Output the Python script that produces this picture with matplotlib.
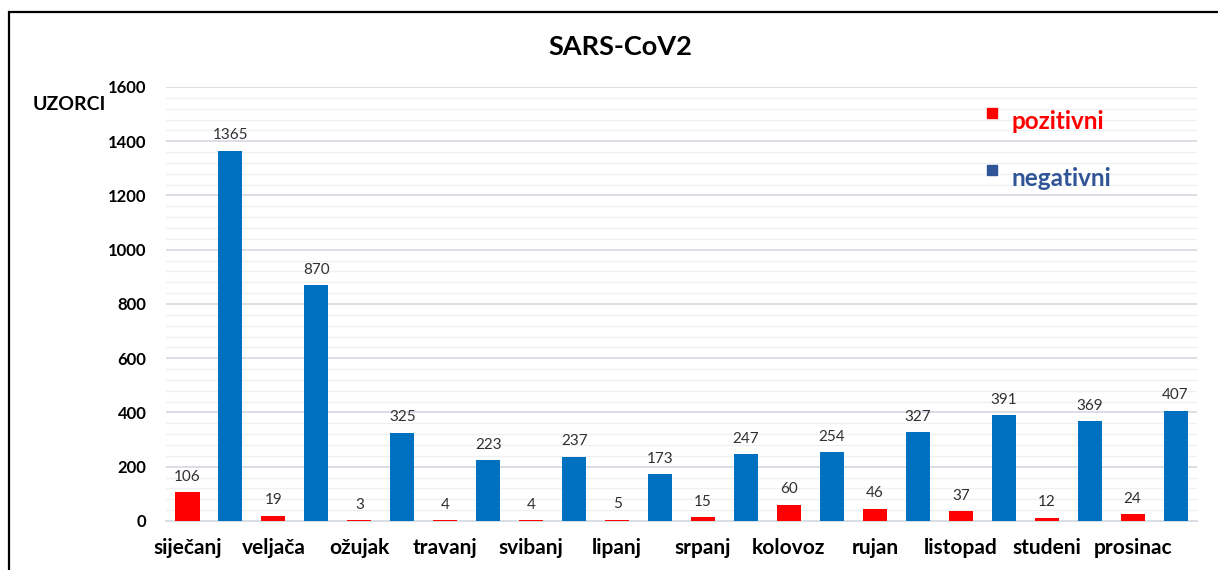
import numpy as np
import matplotlib
matplotlib.use('Agg')
import matplotlib.pyplot as plt
from matplotlib.patches import Rectangle
from matplotlib.ticker import MultipleLocator

months = ['siječanj', 'veljača', 'ožujak', 'travanj', 'svibanj', 'lipanj',
          'srpanj', 'kolovoz', 'rujan', 'listopad', 'studeni', 'prosinac']
pozitivni = [106, 19, 3, 4, 4, 5, 15, 60, 46, 37, 12, 24]
negativni = [1365, 870, 325, 223, 237, 173, 247, 254, 327, 391, 369, 407]

plt.rcParams['font.family'] = ['Lato', 'DejaVu Sans']

RED = '#FF0000'
BLUE = '#0070C0'
LEG_BLUE = '#2F5597'

fig = plt.figure(figsize=(12.18, 5.7), dpi=100)
ax = fig.add_axes([0.1363, 0.086, 0.8465, 0.7614])

x_pos = np.arange(len(months)) * 2
x_neg = x_pos + 1
w = 0.56
b1 = ax.bar(x_pos, pozitivni, w, color=RED, zorder=3)
b2 = ax.bar(x_neg, negativni, w, color=BLUE, zorder=3)

for bars, vals in ((b1, pozitivni), (b2, negativni)):
    for r, v in zip(bars, vals):
        ax.annotate(str(v), (r.get_x() + r.get_width() / 2, v),
                    xytext=(0, 6), textcoords='offset points',
                    ha='center', va='bottom', fontsize=11, color='#303030')

ax.set_xlim(-0.5, 23.5)
ax.set_ylim(0, 1600)
ax.yaxis.set_major_locator(MultipleLocator(200))
ax.yaxis.set_minor_locator(MultipleLocator(40))
ax.grid(axis='y', which='major', color='#D9DEE5', linewidth=1.4, zorder=0)
ax.grid(axis='y', which='minor', color='#EEF0F3', linewidth=1.0, zorder=0)
ax.set_xticks(x_pos)
ax.set_xticklabels(months, fontsize=15, fontweight='bold')
ax.tick_params(axis='x', length=0, pad=12)
ax.tick_params(axis='y', which='both', length=0, pad=14, labelsize=12)
for lab in ax.get_yticklabels():
    lab.set_fontweight('bold')
for s in ('top', 'right', 'left'):
    ax.spines[s].set_visible(False)
ax.spines['bottom'].set_color('#D9DEE5')
ax.spines['bottom'].set_linewidth(1.4)

# legend drawn by hand
ax.plot([0.801], [0.940], 's', color=RED, markersize=7, transform=ax.transAxes, clip_on=False)
ax.text(0.82, 0.92, 'pozitivni', color=RED, fontsize=17.5, fontweight='bold',
        transform=ax.transAxes, va='center')
ax.plot([0.801], [0.809], 's', color=LEG_BLUE, markersize=7, transform=ax.transAxes, clip_on=False)
ax.text(0.82, 0.789, 'negativni', color=LEG_BLUE, fontsize=17.5, fontweight='bold',
        transform=ax.transAxes, va='center')

fig.text(0.509, 0.9175, 'SARS-CoV2', ha='center', va='center', fontsize=19.5, fontweight='bold')
fig.text(0.027, 0.816, 'UZORCI', ha='left', va='center', fontsize=14, fontweight='bold')

fig.patches.append(Rectangle((9 / 1218, -0.1), 1.2, 1.1 - 12 / 570, transform=fig.transFigure,
                             fill=False, edgecolor='black', linewidth=1.6))

fig.savefig('out.png', dpi=100)
